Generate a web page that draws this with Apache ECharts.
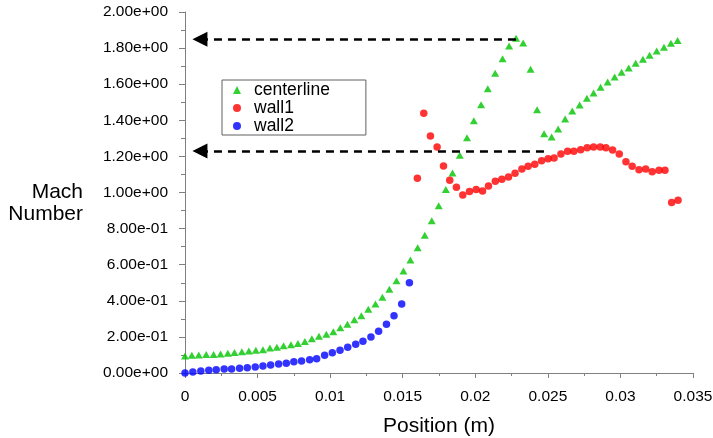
<!DOCTYPE html>
<html><head><meta charset="utf-8">
<script src="https://cdn.jsdelivr.net/npm/echarts@6/dist/echarts.min.js"></script>
<style>html,body{margin:0;padding:0;background:#fff}#c{width:713px;height:438px}</style>
</head><body><div id="c"></div>
<script>
// centerline (triangles)
const centerlineX = [0, 0.00047, 0.00095, 0.00146, 0.00197, 0.00245, 0.00295, 0.00341, 0.00392, 0.00440,
  0.00488, 0.00537, 0.00585, 0.00633, 0.00679, 0.00730, 0.00778, 0.00826, 0.00874, 0.00923,
  0.00974, 0.01022, 0.01070, 0.01119, 0.01167, 0.01215, 0.01263, 0.01312, 0.01360, 0.01408,
  0.01457, 0.01505, 0.01553, 0.01603, 0.01652, 0.01700, 0.01748, 0.01797, 0.01843, 0.01893,
  0.01943, 0.01990, 0.02040, 0.02086, 0.02137, 0.02188, 0.02233, 0.02281, 0.02330, 0.02381,
  0.02426, 0.02474, 0.02526, 0.02571, 0.02619, 0.02668, 0.02719, 0.02769, 0.02815, 0.02863,
  0.02912, 0.02960, 0.03008, 0.03057, 0.03105, 0.03155, 0.03201, 0.03250, 0.03300, 0.03348, 0.03394];
const centerlineY = [0.094, 0.098, 0.100, 0.103, 0.103, 0.105, 0.110, 0.114, 0.118, 0.122,
  0.126, 0.129, 0.138, 0.142, 0.151, 0.157, 0.164, 0.175, 0.190, 0.203,
  0.214, 0.229, 0.251, 0.270, 0.295, 0.317, 0.353, 0.382, 0.419, 0.464,
  0.511, 0.565, 0.626, 0.694, 0.763, 0.844, 0.927, 1.016, 1.108, 1.206,
  1.304, 1.398, 1.486, 1.575, 1.660, 1.741, 1.812, 1.854, 1.828, 1.683,
  1.459, 1.326, 1.307, 1.352, 1.407, 1.452, 1.485, 1.522, 1.551, 1.583,
  1.612, 1.640, 1.666, 1.690, 1.716, 1.738, 1.760, 1.784, 1.805, 1.827, 1.842];
// wall1 (red circles)
const wall1X = [0.01601, 0.01645, 0.01691, 0.01737, 0.01781, 0.01824, 0.01870, 0.01914, 0.01960, 0.02006,
  0.02050, 0.02091, 0.02138, 0.02183, 0.02229, 0.02274, 0.02321, 0.02364, 0.02410, 0.02457,
  0.02502, 0.02543, 0.02590, 0.02636, 0.02679, 0.02726, 0.02771, 0.02815, 0.02861, 0.02900,
  0.02946, 0.02992, 0.03038, 0.03081, 0.03128, 0.03174, 0.03219, 0.03266, 0.03307, 0.03353, 0.03397];
const wall1Y = [1.079, 1.439, 1.313, 1.252, 1.147, 1.068, 1.029, 0.986, 1.006, 1.017,
  1.008, 1.036, 1.062, 1.073, 1.086, 1.106, 1.130, 1.145, 1.156, 1.176,
  1.187, 1.191, 1.213, 1.228, 1.228, 1.237, 1.248, 1.252, 1.252, 1.248,
  1.235, 1.213, 1.171, 1.145, 1.126, 1.130, 1.115, 1.123, 1.123, 0.944, 0.957];
// wall2 (blue circles)
const wall2X = [0, 0.00054, 0.00109, 0.00164, 0.00215, 0.00270, 0.00321, 0.00376, 0.00429, 0.00484,
  0.00537, 0.00590, 0.00645, 0.00698, 0.00750, 0.00803, 0.00859, 0.00907, 0.00962, 0.01015,
  0.01068, 0.01121, 0.01176, 0.01226, 0.01281, 0.01334, 0.01388, 0.01440, 0.01493, 0.01546];
const wall2Y = [0.000, 0.006, 0.011, 0.015, 0.018, 0.022, 0.022, 0.026, 0.029, 0.033,
  0.039, 0.044, 0.050, 0.054, 0.063, 0.066, 0.074, 0.079, 0.098, 0.112,
  0.126, 0.142, 0.159, 0.176, 0.199, 0.231, 0.270, 0.317, 0.382, 0.500];
// dashed arrow annotations: [startX, endX, y]
const arrowTop = [0.00103, 0.0231, 1.849];
const arrowBottom = [0.00103, 0.0250, 1.230];
const seriesNames = ['centerline', 'wall1', 'wall2'];

const font = 'Arial, "Liberation Sans", Helvetica, sans-serif';
const axisGray = '#808080';
function pairs(xs, ys) { return xs.map((x, i) => [x, ys[i]]); }
function sci(v) { return v.toExponential(2).replace(/e([+-])(\d)$/, 'e$10$2'); }

const chart = echarts.init(document.getElementById('c'), null, {renderer: 'canvas'});
chart.setOption({
  animation: false,
  textStyle: {fontFamily: font},
  grid: {left: 185, right: 20, top: 12, bottom: 65, containLabel: false, outerBoundsMode: 'none'},
  legend: {
    orient: 'vertical', left: 222, top: 80,
    padding: [1, 36, 0, 11],
    itemWidth: 8, itemHeight: 8, itemGap: 0,
    borderColor: '#606060', borderWidth: 1,
    textStyle: {fontSize: 17.5, lineHeight: 17, color: '#000', fontFamily: font, padding: [0, 0, 0, 8]},
    data: [{name: seriesNames[0], icon: 'triangle'}, {name: seriesNames[1], icon: 'circle'}, {name: seriesNames[2], icon: 'circle'}]
  },
  xAxis: {
    type: 'value', min: 0, max: 0.035, interval: 0.005,
    name: 'Position (m)', nameLocation: 'middle', nameGap: 43,
    nameTextStyle: {fontSize: 21, color: '#000', fontFamily: font},
    axisLine: {lineStyle: {color: axisGray, width: 1}},
    axisTick: {length: 5, lineStyle: {color: axisGray}},
    minorTick: {show: true, splitNumber: 2, length: 3, lineStyle: {color: axisGray}},
    splitLine: {show: false},
    axisLabel: {fontSize: 15.5, color: '#000', margin: 16, fontFamily: font,
      formatter: v => String(parseFloat(v.toFixed(4)))}
  },
  yAxis: {
    type: 'value', min: 0, max: 2, interval: 0.2,
    name: '\nMach\nNumber', nameLocation: 'middle', nameRotate: 0, nameGap: 102,
    nameTextStyle: {fontSize: 21, lineHeight: 22, color: '#000', align: 'right', fontFamily: font},
    axisLine: {show: true, lineStyle: {color: axisGray, width: 1}},
    axisTick: {length: 6, lineStyle: {color: axisGray}},
    minorTick: {show: true, splitNumber: 2, length: 4, lineStyle: {color: axisGray}},
    splitLine: {show: false},
    axisLabel: {fontSize: 15.5, color: '#000', margin: 17, fontFamily: font, formatter: v => sci(v)}
  },
  series: [
    {
      name: seriesNames[0], type: 'scatter', symbol: 'triangle', symbolSize: [8, 7],
      itemStyle: {color: '#00c400'}, data: pairs(centerlineX, centerlineY), z: 2,
      markLine: {
        silent: true, symbol: ['triangle', 'none'], symbolSize: 15,
        label: {show: false},
        lineStyle: {color: '#000', width: 2.5, type: [8, 6]},
        emphasis: {disabled: true},
        data: [
          [{coord: [arrowTop[0], arrowTop[2]]}, {coord: [arrowTop[1], arrowTop[2]]}],
          [{coord: [arrowBottom[0], arrowBottom[2]]}, {coord: [arrowBottom[1], arrowBottom[2]]}]
        ]
      }
    },
    {name: seriesNames[1], type: 'scatter', symbol: 'circle', symbolSize: 7.5,
      itemStyle: {color: '#ff0000'}, data: pairs(wall1X, wall1Y), z: 3},
    {name: seriesNames[2], type: 'scatter', symbol: 'circle', symbolSize: 7.5,
      itemStyle: {color: '#0000ff'}, data: pairs(wall2X, wall2Y), z: 3}
  ]
});
</script></body></html>
